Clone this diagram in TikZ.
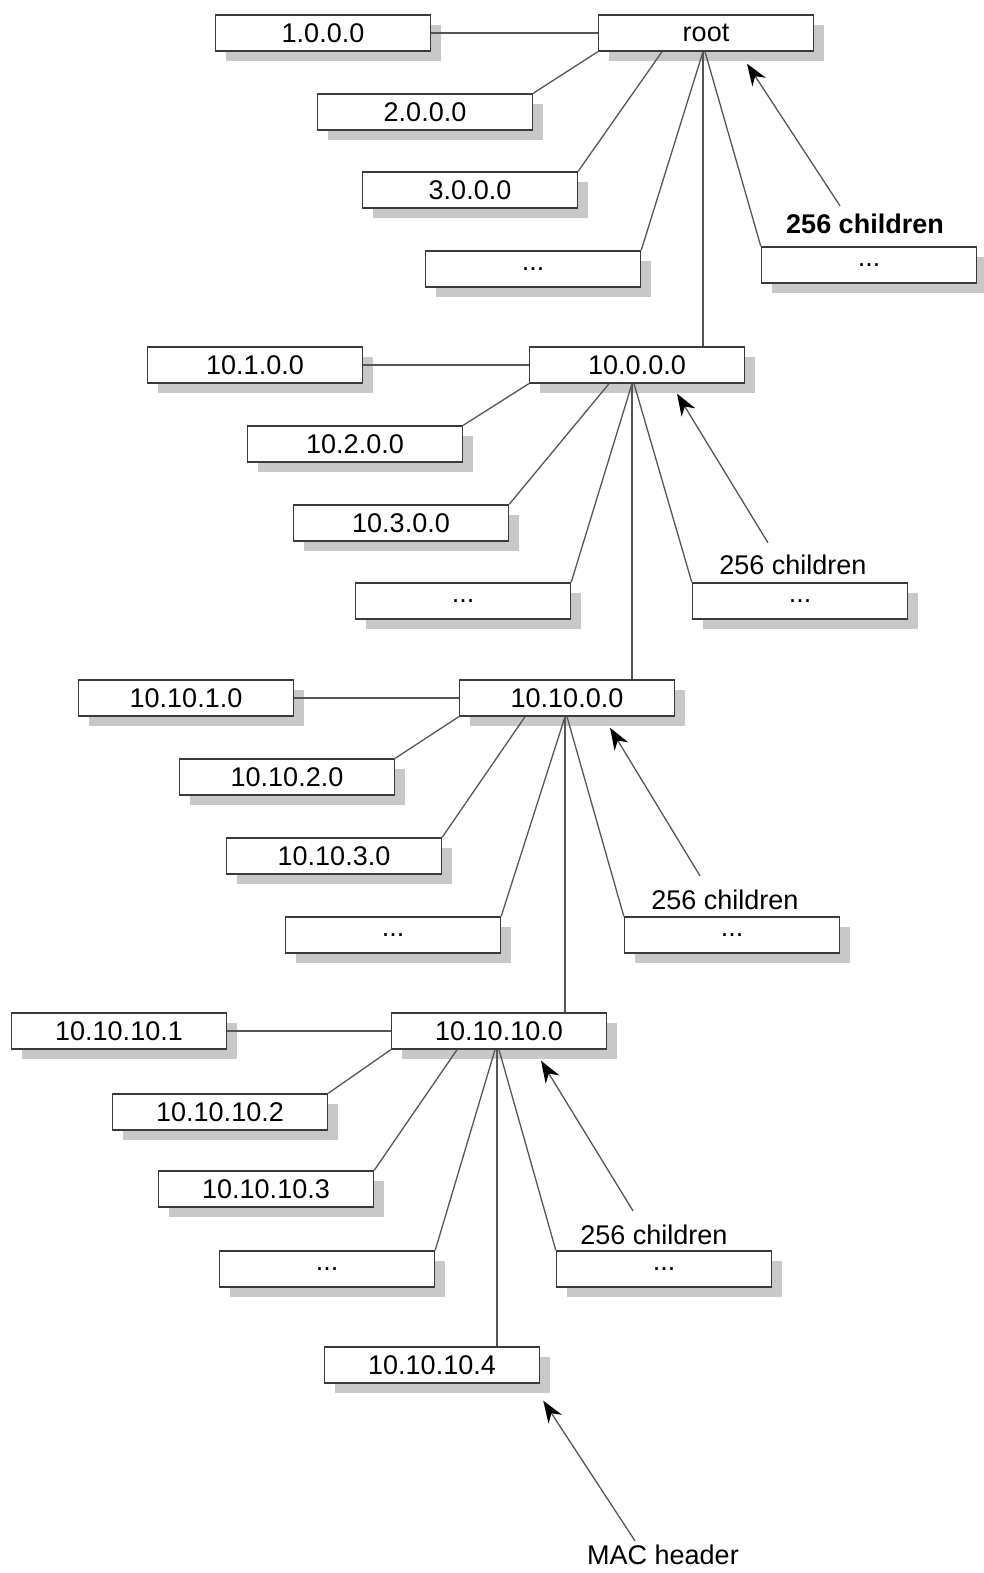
\documentclass[tikz,border=0pt]{standalone}
\usepackage{fontspec}
\setmainfont{Liberation Sans}
\usetikzlibrary{shadows,arrows.meta}
\definecolor{linegray}{HTML}{555555}
\definecolor{boxgray}{HTML}{3A3A3A}
\definecolor{shadowgray}{HTML}{C8C8C8}
\tikzset{
  box/.style={draw=boxgray, line width=1.4pt, fill=white, minimum width=215pt, minimum height=36pt,
    inner sep=0pt, font=\fontsize{27}{30}\selectfont,
    drop shadow={shadow xshift=10pt, shadow yshift=-10pt, fill=shadowgray, opacity=1}},
  conn/.style={draw=linegray, line width=1.3pt},
  ptr/.style={draw=linegray, line width=1.3pt, -{Stealth[length=22pt,width=16pt,inset=7pt,color=black,fill=black]}},
  lab/.style={inner sep=0pt, font=\fontsize{27}{30}\selectfont}
}
\begin{document}
\begin{tikzpicture}[x=1pt,y=-1pt]
\useasboundingbox (0,0) rectangle (984,1573);
% level 0
\node[box] (n1000) at (323,33) {1.0.0.0};
\node[box] (root) at (706,33) {root};
\node[box] (n2000) at (425,112) {2.0.0.0};
\node[box] (n3000) at (470,190) {3.0.0.0};
\node[box] (d0a) at (533,269) {...};
\node[box] (d0b) at (869,265) {...};
\node[lab, font=\fontsize{27}{30}\selectfont\bfseries] (lab0) at (865,224) {256 children};
% level 1
\node[box] (n10) at (637,365) {10.0.0.0};
\node[box] (n101) at (255,365) {10.1.0.0};
\node[box] (n102) at (355,444) {10.2.0.0};
\node[box] (n103) at (401,523) {10.3.0.0};
\node[box] (d1a) at (463,601) {...};
\node[box] (d1b) at (800,601) {...};
\node[lab] (lab1) at (793,565) {256 children};
% level 2
\node[box] (n1010) at (567,698) {10.10.0.0};
\node[box] (n10101) at (186,698) {10.10.1.0};
\node[box] (n10102) at (287,777) {10.10.2.0};
\node[box] (n10103) at (334,856) {10.10.3.0};
\node[box] (d2a) at (393,935) {...};
\node[box] (d2b) at (732,935) {...};
\node[lab] (lab2) at (725,900) {256 children};
% level 3
\node[box] (n101010) at (499,1031) {10.10.10.0};
\node[box] (a1) at (119,1031) {10.10.10.1};
\node[box] (a2) at (220,1112) {10.10.10.2};
\node[box] (a3) at (266,1189) {10.10.10.3};
\node[box] (d3a) at (327,1269) {...};
\node[box] (d3b) at (664,1269) {...};
\node[lab] (lab3) at (654,1235) {256 children};
\node[box] (a4) at (432,1365) {10.10.10.4};
\node[lab] (mac) at (663,1555) {MAC header};
% connectors level 0
\draw[conn] (n1000.east) -- (root.west);
\draw[conn] (root.south west) -- (n2000.north east);
\draw[conn] ([xshift=-44pt]root.south) -- (n3000.north east);
\draw[conn] ([xshift=-3pt]root.south) -- (d0a.north east);
\draw[conn] ([xshift=-3pt]root.south) -- ([xshift=66pt]n10.north);
\draw[conn] ([xshift=-1pt]root.south) -- (d0b.north west);
\draw[ptr] ([xshift=-25pt,yshift=8pt]lab0.north) -- ([xshift=41pt,yshift=-12pt]root.south);
% level 1
\draw[conn] (n101.east) -- (n10.west);
\draw[conn] (n10.south west) -- (n102.north east);
\draw[conn] ([xshift=-28pt]n10.south) -- (n103.north east);
\draw[conn] ([xshift=-5pt]n10.south) -- (d1a.north east);
\draw[conn] ([xshift=-5pt]n10.south) -- ([xshift=65pt]n1010.north);
\draw[conn] ([xshift=-3pt]n10.south) -- (d1b.north west);
\draw[ptr] ([xshift=-25pt,yshift=12pt]lab1.north) -- ([xshift=40pt,yshift=-10pt]n10.south);
% level 2
\draw[conn] (n10101.east) -- (n1010.west);
\draw[conn] (n1010.south west) -- (n10102.north east);
\draw[conn] ([xshift=-42pt]n1010.south) -- (n10103.north east);
\draw[conn] ([xshift=-2pt]n1010.south) -- (d2a.north east);
\draw[conn] ([xshift=-2pt]n1010.south) -- ([xshift=66pt]n101010.north);
\draw[conn] (n1010.south) -- (d2b.north west);
\draw[ptr] ([xshift=-25pt,yshift=14pt]lab2.north) -- ([xshift=43pt,yshift=-11pt]n1010.south);
% level 3
\draw[conn] (a1.east) -- (n101010.west);
\draw[conn] (n101010.south west) -- (a2.north east);
\draw[conn] ([xshift=-42pt]n101010.south) -- (a3.north east);
\draw[conn] ([xshift=-4pt]n101010.south) -- (d3a.north east);
\draw[conn] ([xshift=-2pt]n101010.south) -- ([xshift=65pt]a4.north);
\draw[conn] (n101010.south) -- (d3b.north west);
\draw[ptr] ([xshift=-21pt,yshift=14pt]lab3.north) -- ([xshift=42pt,yshift=-11pt]n101010.south);
\draw[ptr] ([xshift=-28pt,yshift=4pt]mac.north) -- ([xshift=3pt,yshift=-17pt]a4.south east);
\end{tikzpicture}
\end{document}
